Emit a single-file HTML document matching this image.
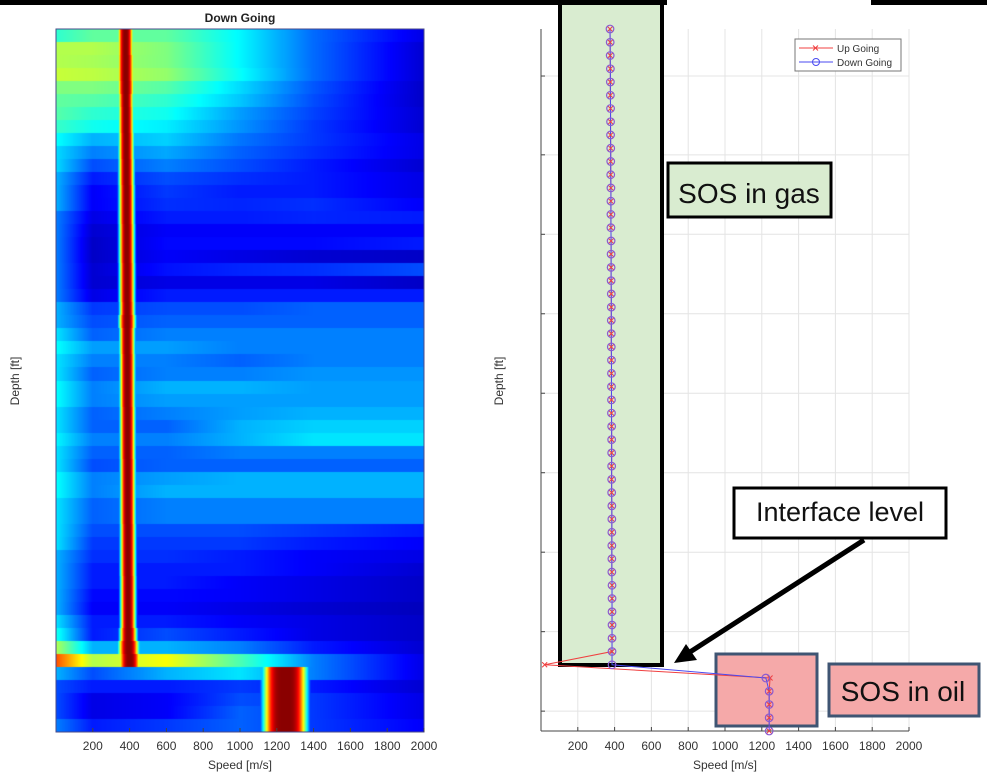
<!DOCTYPE html>
<html><head><meta charset="utf-8"><style>
body{margin:0;background:#fff;width:987px;height:777px;overflow:hidden;position:relative;font-family:"Liberation Sans",sans-serif}
.abs{position:absolute}
</style></head><body>
<div class="abs" style="left:0;top:0;width:667px;height:5px;background:#000"></div>
<div class="abs" style="left:871px;top:0;width:116px;height:5px;background:#000"></div>
<canvas id="hm" class="abs" width="368" height="703" style="left:56px;top:29px"></canvas>
<svg id="ov" class="abs" width="987" height="777" style="left:0;top:0"></svg>
<script>
// ---------- Heatmap data ----------
const hmSpeeds=[0,200,600,1000,1400,2000];
const hmBackground=[
[0.42,0.47,0.47,0.37,0.23,0.1],[0.55,0.55,0.5,0.37,0.23,0.08],[0.55,0.54,0.5,0.37,0.23,0.08],[0.57,0.56,0.52,0.38,0.23,0.08],
[0.5,0.5,0.46,0.34,0.21,0.07],[0.47,0.46,0.42,0.32,0.2,0.07],[0.46,0.42,0.39,0.28,0.19,0.08],[0.43,0.39,0.36,0.27,0.18,0.08],
[0.38,0.3,0.33,0.24,0.18,0.1],[0.34,0.25,0.29,0.22,0.17,0.1],[0.34,0.2,0.25,0.2,0.15,0.08],[0.3,0.15,0.2,0.17,0.15,0.1],
[0.3,0.12,0.18,0.15,0.15,0.1],[0.3,0.12,0.17,0.16,0.17,0.12],[0.25,0.1,0.15,0.15,0.16,0.15],[0.25,0.08,0.12,0.12,0.12,0.12],
[0.25,0.07,0.13,0.13,0.13,0.15],[0.25,0.07,0.12,0.1,0.08,0.07],[0.25,0.08,0.14,0.16,0.17,0.2],[0.25,0.08,0.1,0.1,0.1,0.07],
[0.25,0.1,0.15,0.15,0.15,0.15],[0.3,0.18,0.2,0.2,0.22,0.22],[0.3,0.2,0.22,0.22,0.22,0.22],[0.35,0.22,0.25,0.25,0.25,0.25],
[0.38,0.28,0.28,0.25,0.25,0.25],[0.35,0.25,0.25,0.22,0.25,0.25],[0.35,0.22,0.25,0.25,0.27,0.27],[0.38,0.25,0.3,0.3,0.28,0.28],
[0.38,0.25,0.28,0.28,0.28,0.28],[0.35,0.22,0.25,0.28,0.3,0.3],[0.35,0.22,0.22,0.3,0.33,0.33],[0.37,0.25,0.25,0.3,0.35,0.35],
[0.35,0.22,0.22,0.25,0.25,0.25],[0.35,0.2,0.22,0.22,0.22,0.22],[0.38,0.25,0.28,0.3,0.3,0.3],[0.38,0.25,0.3,0.3,0.3,0.3],
[0.35,0.22,0.25,0.25,0.25,0.25],[0.35,0.22,0.25,0.25,0.25,0.25],[0.35,0.2,0.2,0.2,0.18,0.15],[0.35,0.18,0.18,0.18,0.15,0.12],
[0.3,0.17,0.17,0.15,0.12,0.1],[0.3,0.15,0.15,0.15,0.12,0.08],[0.3,0.15,0.15,0.12,0.1,0.07],[0.3,0.13,0.13,0.12,0.1,0.07],
[0.3,0.12,0.12,0.1,0.08,0.06],[0.35,0.15,0.15,0.12,0.1,0.07],[0.4,0.15,0.2,0.15,0.1,0.07],[0.55,0.3,0.3,0.25,0.15,0.08],
[0.8,0.55,0.62,0.45,0.25,0.1],[0.3,0.2,0.3,0.35,0.25,0.1],[0.2,0.15,0.15,0.18,0.15,0.08],[0.2,0.1,0.12,0.2,0.18,0.1],
[0.2,0.1,0.12,0.22,0.18,0.1],[0.25,0.15,0.18,0.22,0.18,0.12]];
const hmPeakSpeed=[378,378,379,379,380,380,381,381,382,382,383,383,384,384,384,385,385,385,386,386,386,387,387,387,387,388,388,388,388,389,389,389,389,390,390,390,390,390,391,391,391,391,392,392,392,392,393,395,400,1245,1245,1245,1245,1245];
const hmPeakWidth=[42,42,44,44,44,40,40,40,40,40,40,40,40,40,40,40,40,40,40,40,40,40,44,40,40,40,40,40,40,40,40,40,40,40,40,40,40,40,40,40,40,40,40,40,40,40,45,55,60,120,120,120,120,120];
// ---------- Line chart data ----------
const depthIdx=[...Array(54).keys()];
const downGoing=[375,376,376,377,377,377,378,378,378,379,379,379,380,380,380,380,381,381,381,381,382,382,382,382,382,383,383,383,383,383,384,384,384,384,384,384,385,385,385,385,385,385,386,386,386,386,386,386,386,1222,1240,1240,1240,1240];
const upGoing=[375,376,376,377,377,377,378,378,378,379,379,379,380,380,380,380,381,381,381,381,382,382,382,382,382,383,383,383,383,383,384,384,384,384,384,384,385,385,385,385,385,385,386,386,386,386,386,386,20,1245,1240,1240,1240,1240];
const xTicks=[200,400,600,800,1000,1200,1400,1600,1800,2000];
const yTickIdx=[3.55,9.5,15.5,21.5,27.5,33.5,39.5,45.5,51.5];

function jet(v){v=Math.max(0,Math.min(1,v));
 const f=t=>Math.max(0,Math.min(1,1.5-Math.abs(4*v-t)));
 return [f(3)*255,f(2)*255,f(1)*255];}
const hm=document.getElementById('hm'),ctx=hm.getContext('2d');
const W=368,H=703,rowH=H/hmBackground.length;
const img=ctx.createImageData(W,H);
const sx=px=>px/W*2000;
hmBackground.forEach((bg,r)=>{
 const y0=Math.round(r*rowH),y1=Math.round((r+1)*rowH);
 for(let x=0;x<W;x++){
  const s=sx(x+0.5);let i=0;while(i<hmSpeeds.length-2&&s>hmSpeeds[i+1])i++;
  const t=(s-hmSpeeds[i])/(hmSpeeds[i+1]-hmSpeeds[i]);
  let v=bg[i]+(bg[i+1]-bg[i])*t;
  const d=(s-hmPeakSpeed[r])/hmPeakWidth[r];
  const p=r>=49?Math.exp(-Math.pow(Math.abs(d),4)):Math.exp(-Math.pow(Math.abs(d),3)*0.9);
  v=Math.max(v,0.99*p);
  const c=jet(v);
  for(let y=y0;y<y1&&y<H;y++){const k=(y*W+x)*4;img.data[k]=c[0];img.data[k+1]=c[1];img.data[k+2]=c[2];img.data[k+3]=255;}
 }});
ctx.putImageData(img,0,0);

const NS='http://www.w3.org/2000/svg',svg=document.getElementById('ov');
function el(tag,at,txt){const e=document.createElementNS(NS,tag);for(const k in at)e.setAttribute(k,at[k]);if(txt!=null)e.textContent=txt;svg.appendChild(e);return e;}
const Lx=v=>56+v/2000*368;
let e;
e=el('rect',{x:56,y:29,width:368,height:703,fill:'none',stroke:'#4a4a8a','stroke-width':1});

e=el('text',{x:240,y:22,'font-size':12,'font-weight':'bold','text-anchor':'middle',fill:'#222'},'Down Going');

xTicks.forEach(t=>{
 e=el('text',{x:Lx(t),y:750,'font-size':12,'text-anchor':'middle',fill:'#333'},t);
 
 el('line',{x1:Lx(t),x2:Lx(t),y1:732,y2:728,stroke:'#444'});
});
e=el('text',{x:240,y:769,'font-size':12,'text-anchor':'middle',fill:'#333'},'Speed [m/s]');

e=el('text',{x:0,y:0,'font-size':12,'text-anchor':'middle',fill:'#333',transform:'translate(19,381) rotate(-90)'},'Depth [ft]');


const Rx=v=>541+v/2000*368, Ry=i=>29+i*702/53;
xTicks.forEach(t=>{
 e=el('line',{x1:Rx(t),x2:Rx(t),y1:29,y2:731,stroke:'#e4e4e4'});
 
});
yTickIdx.forEach(i=>{
 const y=Ry(i);
 e=el('line',{x1:541,x2:909,y1:y,y2:y,stroke:'#e4e4e4'});
 
 el('line',{x1:541,x2:545,y1:y,y2:y,stroke:'#444'});
});
el('line',{x1:541,x2:541,y1:29,y2:731,stroke:'#444'});
el('line',{x1:541,x2:909,y1:731,y2:731,stroke:'#444'});
xTicks.forEach(t=>{
 el('line',{x1:Rx(t),x2:Rx(t),y1:731,y2:727,stroke:'#444'});
 e=el('text',{x:Rx(t),y:750,'font-size':12,'text-anchor':'middle',fill:'#333'},t);
 
});
e=el('text',{x:725,y:769,'font-size':12,'text-anchor':'middle',fill:'#333'},'Speed [m/s]');

e=el('text',{x:0,y:0,'font-size':12,'text-anchor':'middle',fill:'#333',transform:'translate(503,381) rotate(-90)'},'Depth [ft]');


e=el('rect',{x:560,y:3,width:102,height:662,fill:'#d9ecd0',stroke:'#000','stroke-width':4});

e=el('rect',{x:716,y:654,width:101,height:72,fill:'#f5a9a9',stroke:'#3f5573','stroke-width':3});


const upPts=depthIdx.map(i=>[Rx(upGoing[i]),Ry(i)]);
const dnPts=depthIdx.map(i=>[Rx(downGoing[i]),Ry(i)]);
e=el('polyline',{points:upPts.map(p=>p.join(',')).join(' '),fill:'none',stroke:'#f04040','stroke-width':1});

e=el('polyline',{points:dnPts.map(p=>p.join(',')).join(' '),fill:'none',stroke:'#4a4af0','stroke-width':1});

upPts.forEach(p=>{
 e=el('path',{d:`M${p[0]-2.5},${p[1]-2.5}L${p[0]+2.5},${p[1]+2.5}M${p[0]-2.5},${p[1]+2.5}L${p[0]+2.5},${p[1]-2.5}`,stroke:'#f04040','stroke-width':1});
 
});
dnPts.forEach(p=>{
 e=el('circle',{cx:p[0],cy:p[1],r:3.8,fill:'none',stroke:'#8a5ad0','stroke-width':1.2});
 
});

e=el('rect',{x:795,y:39,width:106,height:32,fill:'#fff',stroke:'#777','stroke-width':1});

el('line',{x1:799,x2:833,y1:48,y2:48,stroke:'#f04040'});
el('path',{d:'M813,45.5L818,50.5M813,50.5L818,45.5',stroke:'#f04040'});
e=el('text',{x:837,y:52,'font-size':10,fill:'#333'},'Up Going');

el('line',{x1:799,x2:833,y1:62,y2:62,stroke:'#4a4af0'});
el('circle',{cx:816,cy:62,r:3.5,fill:'none',stroke:'#4a4af0'});
e=el('text',{x:837,y:66,'font-size':10,fill:'#333'},'Down Going');


e=el('rect',{x:668,y:163,width:163,height:54,fill:'#d9ecd0',stroke:'#000','stroke-width':3});

e=el('text',{x:749,y:203,'font-size':28,'text-anchor':'middle',fill:'#111'},'SOS in gas');

e=el('rect',{x:734,y:488,width:212,height:50,fill:'#fff',stroke:'#000','stroke-width':3});

e=el('text',{x:840,y:521,'font-size':27,'text-anchor':'middle',fill:'#111'},'Interface level');

e=el('line',{x1:864,x2:690,y1:540,y2:652,stroke:'#000','stroke-width':5});

el('path',{d:'M674,663 L686,644 L697,660 Z',fill:'#000'});
e=el('rect',{x:829,y:664,width:150,height:52,fill:'#f5a9a9',stroke:'#3f5573','stroke-width':3});

e=el('text',{x:903,y:701,'font-size':28,'text-anchor':'middle',fill:'#111'},'SOS in oil');

</script>
</body></html>
